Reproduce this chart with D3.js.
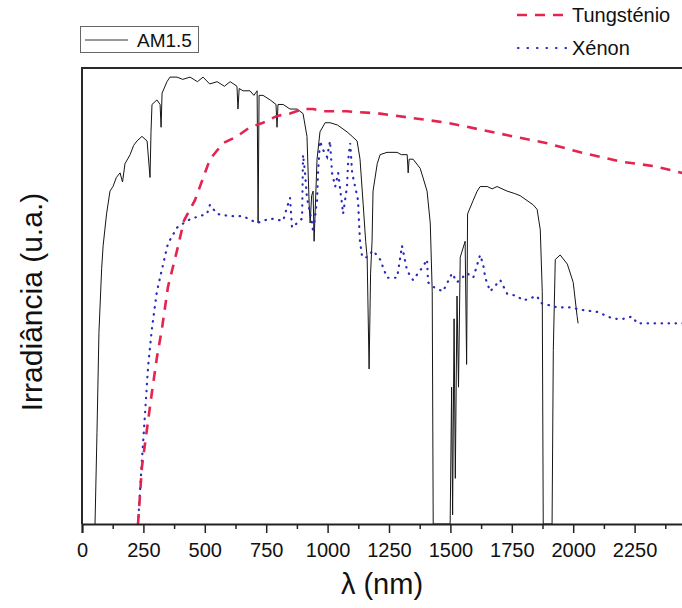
<!DOCTYPE html>
<html>
<head>
<meta charset="utf-8">
<script src="https://cdn.jsdelivr.net/npm/d3@7"></script>
<style>
  body { margin: 0; background: #fff; }
  svg { display: block; font-family: "Liberation Sans", Arial, sans-serif; }
</style>
</head>
<body>
<div id="chart"></div>
<script>
// Spectra (wavelength in nm, irradiance in arbitrary units)
const amWavelength = [53, 61, 69, 80, 86, 100, 114, 126, 140, 155, 165, 175, 196, 210, 224, 244, 265, 277, 281, 285,
  305, 318, 322, 326, 346, 358, 387, 410, 440, 470, 493, 520, 550, 580, 603, 631, 635, 640, 656, 684,
  700, 713, 717, 721, 737, 766, 790, 794, 798, 819, 847, 876, 900, 916, 925, 929, 935, 941, 945, 957,
  969, 990, 1010, 1040, 1079, 1100, 1120, 1132, 1145, 1155, 1161, 1169, 1175, 1181, 1185, 1202, 1214, 1242, 1283, 1300,
  1324, 1328, 1332, 1348, 1377, 1405, 1418, 1426, 1430, 1499, 1505, 1509, 1515, 1520, 1527, 1533, 1540, 1560, 1566, 1570,
  1593, 1609, 1621, 1650, 1670, 1690, 1731, 1760, 1784, 1837, 1853, 1866, 1874, 1878, 1914, 1919, 1927, 1947, 1976, 2000,
  2016, 2020];
const amIrradiance = [0, 0.20, 0.42, 0.56, 0.61, 0.68, 0.73, 0.74, 0.76, 0.77, 0.75, 0.79, 0.81, 0.83, 0.84, 0.85, 0.84, 0.76, 0.86, 0.92,
  0.93, 0.92, 0.87, 0.945, 0.97, 0.98, 0.98, 0.975, 0.98, 0.97, 0.98, 0.965, 0.97, 0.96, 0.97, 0.96, 0.91, 0.955, 0.95, 0.95,
  0.94, 0.95, 0.66, 0.94, 0.94, 0.93, 0.92, 0.87, 0.92, 0.92, 0.91, 0.91, 0.90, 0.85, 0.70, 0.66, 0.72, 0.73, 0.62, 0.80,
  0.86, 0.88, 0.88, 0.875, 0.86, 0.85, 0.84, 0.80, 0.70, 0.62, 0.585, 0.34, 0.55, 0.62, 0.73, 0.79, 0.81, 0.815, 0.815, 0.81,
  0.81, 0.77, 0.80, 0.80, 0.78, 0.73, 0.66, 0.51, 0, 0, 0.30, 0.02, 0.45, 0.10, 0.50, 0.30, 0.585, 0.62, 0.35, 0.68,
  0.71, 0.73, 0.74, 0.74, 0.735, 0.74, 0.73, 0.725, 0.72, 0.70, 0.69, 0.645, 0.51, 0, 0, 0.38, 0.58, 0.59, 0.57, 0.53,
  0.455, 0.44];

const wWavelength = [228, 244, 265, 285, 305, 326, 350, 387, 415, 460, 521, 574, 631, 684, 737, 794, 847, 900, 941, 982,
  1079, 1214, 1348, 1487, 1621, 1756, 1894, 2029, 2191, 2326, 2444, 2500];
const wIrradiance = [0, 0.125, 0.21, 0.29, 0.365, 0.43, 0.52, 0.60, 0.665, 0.71, 0.80, 0.835, 0.85, 0.87, 0.88, 0.895, 0.90, 0.91, 0.91, 0.905,
  0.905, 0.90, 0.89, 0.88, 0.865, 0.85, 0.835, 0.815, 0.795, 0.785, 0.77, 0.765];

const xeWavelength = [228, 244, 257, 269, 285, 305, 326, 350, 387, 428, 448, 509, 521, 550, 603, 656, 713, 766, 819, 835,
  847, 855, 876, 896, 900, 908, 916, 937, 941, 957, 961, 969, 982, 998, 1010, 1018, 1031, 1043, 1059, 1063,
  1079, 1084, 1092, 1100, 1112, 1124, 1128, 1132, 1141, 1161, 1185, 1214, 1242, 1283, 1303, 1324, 1348, 1389, 1405, 1409,
  1430, 1470, 1507, 1527, 1568, 1593, 1621, 1633, 1642, 1662, 1703, 1731, 1772, 1796, 1853, 1866, 1935, 1988, 2029, 2098,
  2163, 2204, 2240, 2261, 2326, 2444, 2500];
const xeIrradiance = [0, 0.14, 0.245, 0.345, 0.43, 0.51, 0.56, 0.615, 0.65, 0.665, 0.67, 0.68, 0.70, 0.68, 0.675, 0.675, 0.66, 0.67, 0.665, 0.695,
  0.715, 0.65, 0.66, 0.67, 0.81, 0.77, 0.715, 0.66, 0.64, 0.71, 0.77, 0.84, 0.82, 0.805, 0.84, 0.77, 0.74, 0.77, 0.70, 0.68,
  0.74, 0.80, 0.835, 0.77, 0.74, 0.71, 0.66, 0.62, 0.585, 0.585, 0.60, 0.58, 0.54, 0.54, 0.61, 0.555, 0.535, 0.565, 0.58, 0.53,
  0.52, 0.51, 0.55, 0.53, 0.55, 0.54, 0.59, 0.57, 0.54, 0.51, 0.535, 0.505, 0.50, 0.49, 0.50, 0.485, 0.475, 0.475, 0.47, 0.465,
  0.45, 0.45, 0.455, 0.44, 0.44, 0.44, 0.44];

const majorTicks = [0, 250, 500, 750, 1000, 1250, 1500, 1750, 2000, 2250];
const minorTicks = [125, 375, 625, 875, 1125, 1375, 1625, 1875, 2125, 2375];

const chart = {
    totalWidth: 682,
    totalHeight: 608,
    left: 82,
    top: 68,
    bottom: 524,
    right: 696
};

const svg = d3.select('#chart')
    .append('svg')
    .attr('width', chart.totalWidth)
    .attr('height', chart.totalHeight);

svg.append('rect')
    .attr('width', chart.totalWidth)
    .attr('height', chart.totalHeight)
    .attr('fill', '#fff');

const xScale = d3.scaleLinear()
    .domain([0, 2500])
    .range([chart.left, chart.right]);

const yScale = d3.scaleLinear()
    .domain([0, 1])
    .range([chart.bottom, chart.top]);

svg.append('clipPath')
    .attr('id', 'plot-clip')
    .append('rect')
    .attr('x', chart.left)
    .attr('y', chart.top)
    .attr('width', chart.right - chart.left)
    .attr('height', chart.bottom - chart.top);

const line = d3.line()
    .x(d => xScale(d[0]))
    .y(d => yScale(d[1]));

const lines = svg.append('g')
    .attr('clip-path', 'url(#plot-clip)');

// AM1.5
lines.append('path')
    .attr('d', line(d3.zip(amWavelength, amIrradiance)))
    .attr('fill', 'none')
    .attr('stroke', '#151515')
    .attr('stroke-width', 1);

// Xenon
lines.append('path')
    .attr('d', line(d3.zip(xeWavelength, xeIrradiance)))
    .attr('fill', 'none')
    .attr('stroke', '#2a2ab8')
    .attr('stroke-width', 2.2)
    .attr('stroke-linecap', 'round')
    .attr('stroke-dasharray', '0.5 6.5');

// Tungsten
lines.append('path')
    .attr('d', line(d3.zip(wWavelength, wIrradiance)))
    .attr('fill', 'none')
    .attr('stroke', '#e2244f')
    .attr('stroke-width', 2.6)
    .attr('stroke-dasharray', '10 8');

// Frame (left + top; right edge falls outside the picture)
svg.append('path')
    .attr('d', `M${chart.left},${chart.bottom}V${chart.top}H${chart.right}`)
    .attr('fill', 'none')
    .attr('stroke', '#2a2a2a')
    .attr('stroke-width', 2);

// X axis
const minorAxis = d3.axisBottom(xScale)
    .tickValues(minorTicks)
    .tickSize(5)
    .tickFormat('');

const majorAxis = d3.axisBottom(xScale)
    .tickValues(majorTicks)
    .tickSize(9)
    .tickPadding(10)
    .tickFormat(d3.format('d'));

svg.append('g')
    .attr('transform', `translate(0, ${chart.bottom})`)
    .call(minorAxis)
    .call(g => g.select('.domain').remove())
    .selectAll('line').attr('stroke', '#222').attr('stroke-width', 1.5);

const xAxisG = svg.append('g')
    .attr('transform', `translate(0, ${chart.bottom})`)
    .call(majorAxis);

xAxisG.select('.domain')
    .attr('stroke', '#222')
    .attr('stroke-width', 2);
xAxisG.selectAll('line')
    .attr('stroke', '#222')
    .attr('stroke-width', 1.5);
xAxisG.selectAll('text')
    .attr('font-size', 20)
    .attr('font-family', '"Liberation Sans", Arial, sans-serif')
    .attr('fill', '#111');

// Axis titles
svg.append('text')
    .attr('x', 382)
    .attr('y', 594)
    .attr('text-anchor', 'middle')
    .attr('font-size', 29)
    .attr('fill', '#111')
    .text('λ (nm)');

svg.append('text')
    .attr('transform', 'translate(42, 302) rotate(-90)')
    .attr('text-anchor', 'middle')
    .attr('font-size', 30)
    .attr('fill', '#111')
    .text('Irradiância (u.a.)');

// Legends
svg.append('rect')
    .attr('x', 80.5)
    .attr('y', 26.5)
    .attr('width', 118)
    .attr('height', 26)
    .attr('fill', 'none')
    .attr('stroke', '#666')
    .attr('stroke-width', 1);

svg.append('line')
    .attr('x1', 85).attr('x2', 128)
    .attr('y1', 40).attr('y2', 40)
    .attr('stroke', '#333')
    .attr('stroke-width', 1);

svg.append('text')
    .attr('x', 137)
    .attr('y', 47)
    .attr('font-size', 19)
    .attr('fill', '#111')
    .text('AM1.5');

svg.append('line')
    .attr('x1', 517).attr('x2', 567)
    .attr('y1', 15).attr('y2', 15)
    .attr('stroke', '#e2244f')
    .attr('stroke-width', 2.6)
    .attr('stroke-dasharray', '10 8');

svg.append('text')
    .attr('x', 572)
    .attr('y', 22)
    .attr('font-size', 20)
    .attr('fill', '#111')
    .text('Tungsténio');

svg.append('line')
    .attr('x1', 518).attr('x2', 567)
    .attr('y1', 48).attr('y2', 48)
    .attr('stroke', '#2a2ab8')
    .attr('stroke-width', 2.2)
    .attr('stroke-linecap', 'round')
    .attr('stroke-dasharray', '0.5 9');

svg.append('text')
    .attr('x', 572)
    .attr('y', 55)
    .attr('font-size', 20)
    .attr('fill', '#111')
    .text('Xénon');
</script>
</body>
</html>
